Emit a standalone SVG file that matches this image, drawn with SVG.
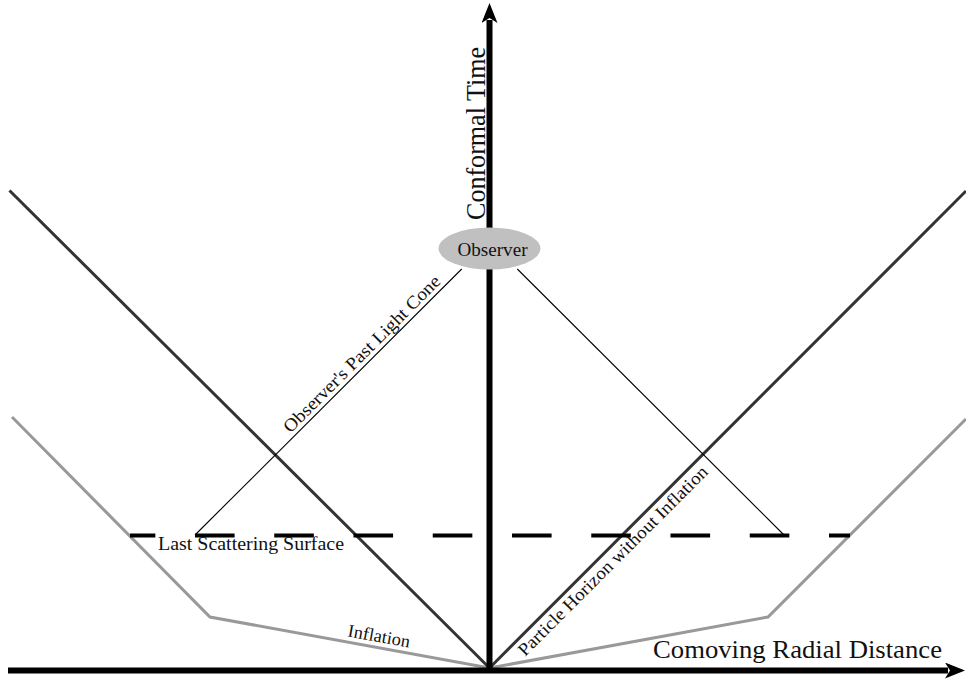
<svg xmlns="http://www.w3.org/2000/svg" width="966" height="680" viewBox="0 0 966 680">
<style>
.lbl{font-family:"Liberation Serif","DejaVu Serif",serif;fill:#111}
.dark{stroke:#333;stroke-width:3;fill:none}
.gray{stroke:#999;stroke-width:3;fill:none;stroke-linejoin:miter}
.thin{stroke:#000;stroke-width:1.1;fill:none}
.axis{stroke:#000;stroke-width:6;fill:none}
</style>
<defs>
<marker id="ah" viewBox="0 0 20 16" refX="3" refY="8" markerWidth="20" markerHeight="16" markerUnits="userSpaceOnUse" orient="auto">
<path d="M0,0 L20,8 L0,16 L5,8 Z" fill="#000"/>
</marker>
</defs>
<rect width="966" height="680" fill="#fff"/>
<g id="connectors">
<polyline class="gray" points="12,417 210,617 489.5,668 768,617 966,419"/>
<line class="dark" x1="9.5" y1="190.5" x2="489.5" y2="668"/>
<line class="dark" x1="489.5" y1="668" x2="966" y2="191"/>
<line x1="130" y1="535.5" x2="850" y2="535.5" stroke="#000" stroke-width="4" stroke-dasharray="39.6 39.65" stroke-dashoffset="14.25"/>
<line class="thin" x1="461.7" y1="269" x2="195" y2="535"/>
<line class="thin" x1="517.3" y1="269" x2="784" y2="535"/>
<line class="axis" x1="8" y1="670.5" x2="948" y2="670.5" marker-end="url(#ah)"/>
<line class="axis" x1="489.5" y1="672" x2="489.5" y2="20" marker-end="url(#ah)"/>
</g>
<g id="observer">
<ellipse cx="489.5" cy="248.5" rx="51" ry="21" fill="#c0c0c0"/>
<text class="lbl" x="492.5" y="256" font-size="18" text-anchor="middle" textLength="70" lengthAdjust="spacingAndGlyphs">Observer</text>
</g>
<g id="label-conformal-time">
<text class="lbl" transform="translate(485,220) rotate(-90)" font-size="27" textLength="173" lengthAdjust="spacingAndGlyphs">Conformal Time</text>
</g>
<g id="label-comoving">
<text class="lbl" x="653" y="658" font-size="25" textLength="289" lengthAdjust="spacingAndGlyphs">Comoving Radial Distance</text>
</g>
<g id="label-last-scattering">
<text class="lbl" x="158" y="550" font-size="18" textLength="186" lengthAdjust="spacingAndGlyphs">Last Scattering Surface</text>
</g>
<g id="label-inflation">
<text class="lbl" transform="translate(378,642) rotate(10.36)" font-size="18" text-anchor="middle" textLength="63" lengthAdjust="spacingAndGlyphs">Inflation</text>
</g>
<g id="label-past-light-cone">
<text class="lbl" transform="translate(366,358) rotate(-45)" font-size="18" text-anchor="middle" textLength="214" lengthAdjust="spacingAndGlyphs">Observer's Past Light Cone</text>
</g>
<g id="label-particle-horizon">
<text class="lbl" transform="translate(617,565) rotate(-45)" font-size="18" text-anchor="middle" textLength="260" lengthAdjust="spacingAndGlyphs">Particle Horizon without Inflation</text>
</g>
</svg>
